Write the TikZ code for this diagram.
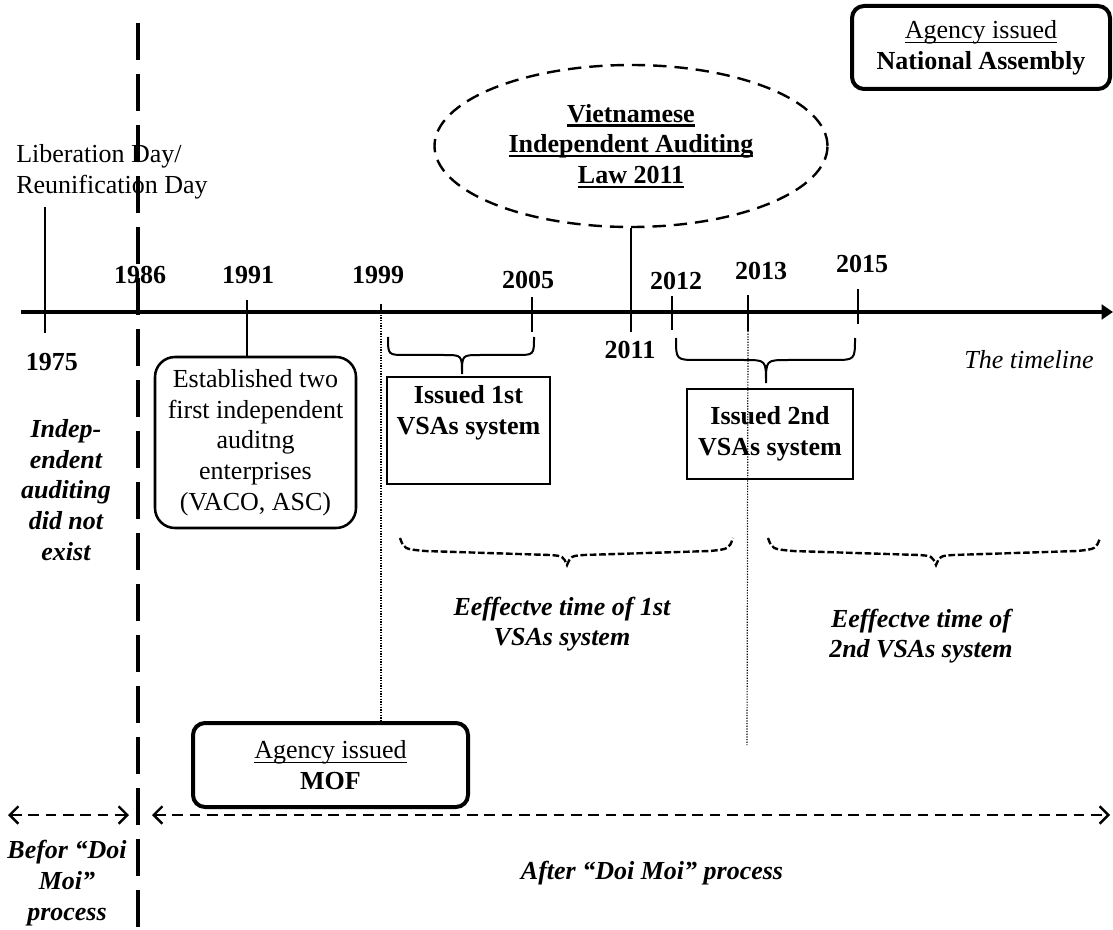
\documentclass[tikz,border=0pt]{standalone}
\usepackage{fontspec}
\setmainfont{Liberation Serif}
\usetikzlibrary{arrows.meta,shapes.geometric}
\newcommand{\diagfont}{\fontsize{19.5}{23}\selectfont}
% underline at a fixed depth, independent of descenders
\newsavebox{\ulbox}
\newcommand{\uln}[2][1pt]{\sbox\ulbox{#2}\rlap{\rule[-3.4pt]{\wd\ulbox}{#1}}\usebox\ulbox}
\begin{document}
\begin{tikzpicture}[x=0.75pt,y=-0.75pt,
  every node/.style={inner sep=0pt, font=\diagfont},
  yearlbl/.style={font=\diagfont\bfseries},
  tick/.style={line width=1.5pt},
  axisline/.style={line width=3pt, -{Triangle[length=8.5pt,width=11pt]}},
  divider/.style={line width=3.4pt, dash pattern=on 27.75pt off 10.5pt},
  guide/.style={line width=0.9pt, dash pattern=on 0.9pt off 1.1pt},
  plainbox/.style={draw, line width=1.5pt},
  roundbox/.style={draw, line width=1.9pt, rounded corners=15pt, align=center},
  agencybox/.style={draw, line width=3pt, rounded corners=9pt, align=center},
  lawellipse/.style={ellipse, draw, line width=1.8pt, dash pattern=on 10pt off 6pt, align=center, font=\diagfont\bfseries},
  brace/.style={line width=1.5pt},
  dbrace/.style={line width=1.8pt, dash pattern=on 5pt off 2pt},
  period/.style={line width=1.8pt, dash pattern=on 8pt off 5pt,
    {Straight Barb[length=6.5pt,width=13pt]}-{Straight Barb[length=6.5pt,width=13pt]}},
  note/.style={font=\diagfont\bfseries\itshape, align=center}]
\useasboundingbox (0,0) rectangle (1113,930);

% ---- timeline axis ----
\coordinate (axL) at (21,312);
\coordinate (axR) at (1113,312);
\draw[axisline] (axL) -- (axR);

% ---- plain ticks ----
\foreach \n/\x/\a/\b in {1975/45/207/333, 1999/381/304/312, 2005/532/297/332,
                         2012/672/296/330, 2013/748/295/331, 2015/858/289/324}{
  \coordinate (t\n a) at (\x,\a);
  \coordinate (t\n b) at (\x,\b);
  \draw[tick] (t\n a) -- (t\n b);
}

% ---- year labels ----
\node[yearlbl] (y1975) at (52,362) {1975};
\node[yearlbl] (y1986) at (140,275) {1986};
\node[yearlbl] (y1991) at (248,275) {1991};
\node[yearlbl] (y1999) at (378,275) {1999};
\node[yearlbl] (y2005) at (528,280) {2005};
\node[yearlbl] (y2011) at (630,350) {2011};
\node[yearlbl] (y2012) at (676,281) {2012};
\node[yearlbl] (y2013) at (761,271) {2013};
\node[yearlbl] (y2015) at (862,264) {2015};

% ---- 1975 ----
\node[anchor=west, align=left] (lib) at (16,172) {Liberation Day/\\Reunification Day};
\node[note] (noaudit) at (66,490) {Indep-\\endent\\auditing\\did not\\exist};

% ---- 1991 ----
\node[roundbox, minimum width=150.75pt, minimum height=128.25pt] (est) at (255.5,442.5)
  {Established two\\first independent\\auditng\\enterprises\\(VACO, ASC)};
\coordinate (t1991a) at (247,300);
\draw[tick] (t1991a) -- (t1991a |- est.north);

% ---- 1st VSAs ----
\draw[brace] (388,337) .. controls (388,355) .. (406,355) -- (444,355)
  .. controls (462,355) .. (462,374) .. controls (462,355) .. (480,355)
  -- (516,355) .. controls (534,355) .. (534,337);
\node[plainbox, minimum width=122.25pt, minimum height=80.25pt] (vsa1) at (468.5,430.5) {};
\node[font=\diagfont\bfseries, align=center, anchor=north] (vsa1txt) at ([yshift=-7pt]vsa1.north)
  {Issued 1st\\VSAs system};

% ---- law 2011 ----
\node[lawellipse, minimum width=294.75pt, minimum height=121.5pt] (law) at (631,146)
  {\uln[1.8pt]{Vietnamese}\\\uln[1.8pt]{Independent Auditing}\\\uln[1.8pt]{Law 2011}};
\coordinate (t2011b) at (631,332);
\draw[tick] (law.south) -- (t2011b);

% ---- 2nd VSAs ----
\draw[brace] (676,338) .. controls (676,360) .. (698,360) -- (744,360)
  .. controls (766,360) .. (766,383) .. controls (766,360) .. (788,360)
  -- (833,360) .. controls (855,360) .. (855,338);
\node[plainbox, font=\diagfont\bfseries, align=center, minimum width=124.5pt, minimum height=67.5pt]
  (vsa2) at (770,434) {Issued 2nd\\VSAs system};

\node[font=\diagfont\itshape] (tl) at (1029,360) {The timeline};

% ---- effective periods ----
\draw[dbrace] (400,538) .. controls (404,549) .. (425,551) -- (550,555)
  .. controls (563,556) .. (567,565) .. controls (571,556) .. (584,555)
  -- (710,551) .. controls (729,549) .. (733,538);
\draw[dbrace] (768,538) .. controls (772,549) .. (793,551) -- (919,555)
  .. controls (932,556) .. (936,565) .. controls (940,556) .. (953,555)
  -- (1077,551) .. controls (1096,549) .. (1100,538);
\node[note] (eff1) at (562,624) {Eeffectve time of 1st\\VSAs system};
\node[note] (eff2) at (921,636) {Eeffectve time of\\2nd VSAs system};

% ---- issuing agencies ----
\node[agencybox, minimum width=193.5pt, minimum height=62.25pt] (na) at (981,47.5)
  {\uln{Agency issued}\\\textbf{National Assembly}};
\node[agencybox, minimum width=206.25pt, minimum height=63pt] (mof) at (330.5,765)
  {\uln{Agency issued}\\\textbf{MOF}};

% ---- dotted guides ----
\draw[guide] (t1999b) -- (t1999b |- mof.north);
\coordinate (g2013) at (747,745);
\draw[guide] (t2013b) -- (g2013);

% ---- Doi Moi periods ----
\coordinate (befL) at (8,815);
\coordinate (befR) at (129,815);
\coordinate (aftL) at (152,815);
\coordinate (aftR) at (1110,815);
\draw[period] (befL) -- (befR);
\draw[period] (aftL) -- (aftR);
\node[note] (bef) at (67,883) {Befor “Doi\\Moi”\\process};
\node[note] (aft) at (652,873) {After “Doi Moi” process};

% ---- 1986 divider ----
\coordinate (divT) at (138,23);
\coordinate (divB) at (138,930);
\draw[divider] (divT) -- (divB);
\end{tikzpicture}
\end{document}
